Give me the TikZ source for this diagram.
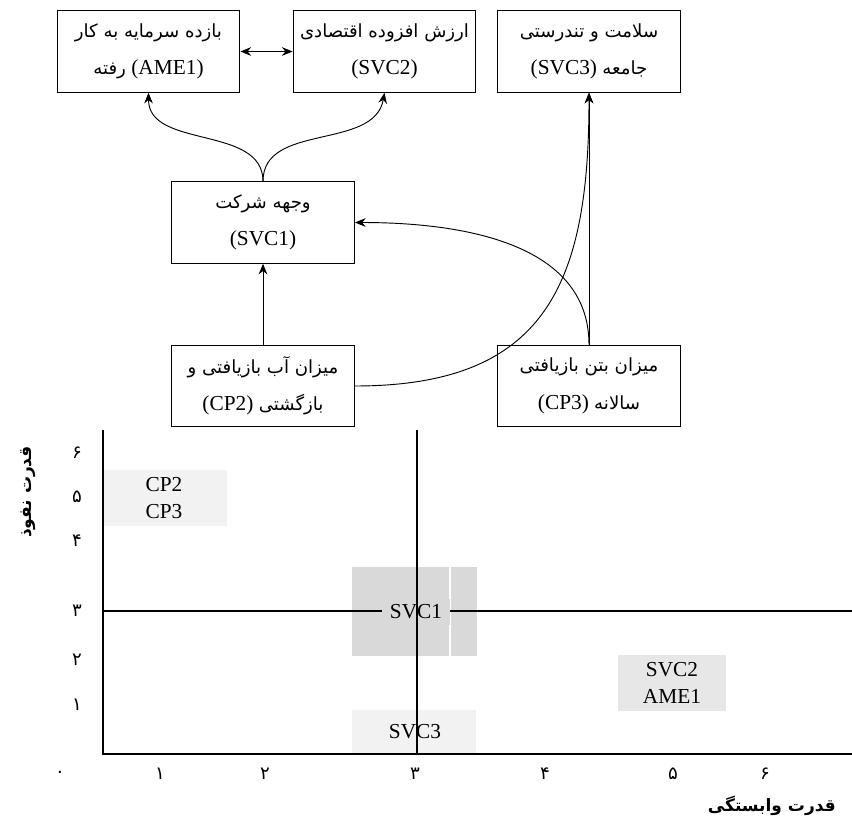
\documentclass[tikz,border=0pt]{standalone}
\usepackage{fontspec}
\setmainfont{Liberation Serif}
\newfontfamily\persianfont[Script=Arabic,Scale=0.85]{DejaVu Sans}
\TeXXeTstate=1
\usetikzlibrary{arrows.meta}
\definecolor{cellgray}{HTML}{D9D9D9}
\definecolor{lightcell}{HTML}{F2F2F2}
\definecolor{midcell}{HTML}{E7E7E7}
\newcommand{\fatxt}[1]{{\persianfont\beginR #1\endR}}
\tikzset{
	factor/.style={draw, line width=0.9pt, minimum width=137pt, minimum height=61pt, inner sep=0pt, align=center, font=\fontsize{16}{28}\selectfont},
	link/.style={-{Stealth[length=8pt, width=6.5pt]}, line width=0.7pt},
	cell/.style={align=center, inner sep=0pt, font=\fontsize{16}{20}\selectfont},
	digit/.style={font=\fontsize{16}{20}\selectfont\persianfont},
	axisline/.style={line width=1.5pt},
	midline/.style={line width=1.1pt},
	axistitle/.style={inner sep=0pt, font=\fontsize{15}{18}\selectfont\bfseries}
}

\begin{document}
\begin{tikzpicture}[x=0.75pt, y=-0.75pt]
	\useasboundingbox (0,0) rectangle (852,831);
	\node[factor] (ame1) at (148.5,51.5) {\fatxt{بازده سرمایه به کار}\\\fatxt{رفته} (AME1)};
	\node[factor] (svc2) at (384.5,51.5) {\fatxt{ارزش افزوده اقتصادی}\\(SVC2)};
	\node[factor] (svc3) at (589,51.5) {\fatxt{سلامت و تندرستی}\\(SVC3) \fatxt{جامعه}};
	\node[factor] (svc1) at (263,222.5) {\fatxt{وجهه شرکت}\\(SVC1)};
	\node[factor] (cp2) at (263,386) {\fatxt{میزان آب بازیافتی و}\\(CP2) \fatxt{بازگشتی}};
	\node[factor] (cp3) at (589,386) {\fatxt{میزان بتن بازیافتی}\\(CP3) \fatxt{سالانه}};
	\draw[link, {Stealth[length=8pt, width=6.5pt]}-{Stealth[length=8pt, width=6.5pt]}] (ame1) -- (svc2);
	\draw[link] (svc1.north) to[out=90, in=-90] (ame1.south);
	\draw[link] (svc1.north) to[out=90, in=-100] (svc2.south);
	\draw[link] (cp2) -- (svc1);
	\draw[link] (cp2.east) to[out=0, in=-90, looseness=1.3] (svc3.south);
	\draw[link] (cp3.north) to[out=90, in=0] (svc1.east);
	\draw[link] (cp3) -- (svc3);

	\fill[lightcell] (103,470) rectangle (227,526);
	\fill[cellgray] (352,567) rectangle (449,656);
	\fill[cellgray] (451,567) rectangle (477,656);
	\fill[midcell] (618,655) rectangle (726,711);
	\fill[lightcell] (352,710) rectangle (476,754);
	\draw[midline] (103,611) -- (852,611);
	\node[cell, fill=cellgray, inner xsep=6pt, inner ysep=4pt] (m-svc1) at (416,612) {SVC1};
	\draw[midline] (417,430) -- (417,754);
	\draw[axisline] (103,430) -- (103,754) -- (852,754);
	\node[cell] (m-cp) at (164,498) {CP2\\CP3};
	\node[cell] (m-svc2) at (672,683) {SVC2\\AME1};
	\node[cell] (m-svc3) at (415,732) {SVC3};
	\foreach \digit/\pos in {۰/60, ۱/160, ۲/265, ۳/415, ۴/545, ۵/673, ۶/765}
		\node[digit] at (\pos,774) {\digit};
	\foreach \digit/\pos in {۱/705, ۲/660, ۳/611, ۴/541, ۵/497, ۶/453}
		\node[digit] at (77,\pos) {\digit};
	\node[axistitle, anchor=east] (xtitle) at (836,806) {\fatxt{قدرت وابستگی}};
	\node[axistitle, rotate=90] (ytitle) at (28,492) {\fatxt{قدرت نفوذ}};
\end{tikzpicture}
\end{document}
